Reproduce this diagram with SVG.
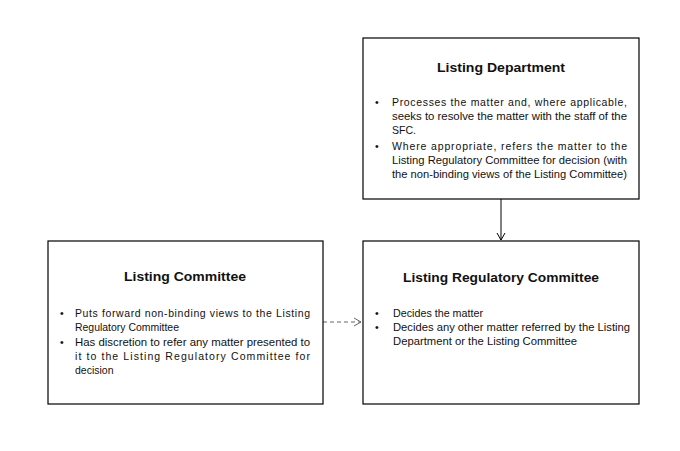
<svg xmlns="http://www.w3.org/2000/svg" width="680" height="451" viewBox="0 0 680 451">
<style>
.box{fill:#fff;stroke:#000;stroke-width:1.2}
.t{font-family:"Liberation Sans",Arial,sans-serif;font-weight:bold;font-size:13px;fill:#111}
.b{font-family:"Liberation Sans",Arial,sans-serif;font-size:10.5px;fill:#111}
.conn{fill:none;stroke:#000;stroke-width:1}
.dash{fill:none;stroke:#666;stroke-width:1;stroke-dasharray:4,3}
</style>
<defs>
<marker id="v" markerWidth="10" markerHeight="10" refX="8" refY="5" orient="auto" markerUnits="userSpaceOnUse">
<path d="M1,1 L8,5 L1,9" fill="none" stroke="#000" stroke-width="1"/>
</marker>
<marker id="vg" markerWidth="10" markerHeight="10" refX="8" refY="5" orient="auto" markerUnits="userSpaceOnUse">
<path d="M1,1 L8,5 L1,9" fill="none" stroke="#666" stroke-width="1"/>
</marker>
</defs>
<rect width="680" height="451" fill="#fff"/>
<g id="connectors">
<line class="conn" x1="501" y1="199" x2="501" y2="240" marker-end="url(#v)"/>
<line class="dash" x1="323" y1="322" x2="361" y2="322" marker-end="url(#vg)"/>
</g>
<g id="listing-department">
<rect class="box" x="363" y="38" width="276" height="161"/>
<text class="t" x="501" y="72" text-anchor="middle" textLength="128" lengthAdjust="spacingAndGlyphs">Listing Department</text>
<text class="b" x="375" y="106">•</text>
<text class="b" x="392" y="106" textLength="235" lengthAdjust="spacing">Processes the matter and, where applicable,</text>
<text class="b" x="392" y="120" textLength="235" lengthAdjust="spacingAndGlyphs">seeks to resolve the matter with the staff of the</text>
<text class="b" x="392" y="134">SFC.</text>
<text class="b" x="375" y="150">•</text>
<text class="b" x="392" y="150" textLength="235" lengthAdjust="spacing">Where appropriate, refers the matter to the</text>
<text class="b" x="392" y="164" textLength="235" lengthAdjust="spacingAndGlyphs">Listing Regulatory Committee for decision (with</text>
<text class="b" x="392" y="178" textLength="235" lengthAdjust="spacingAndGlyphs">the non-binding views of the Listing Committee)</text>
</g>
<g id="listing-committee">
<rect class="box" x="48" y="241" width="275" height="163"/>
<text class="t" x="185" y="281" text-anchor="middle" textLength="122" lengthAdjust="spacingAndGlyphs">Listing Committee</text>
<text class="b" x="60" y="317">•</text>
<text class="b" x="75" y="317" textLength="235" lengthAdjust="spacing">Puts forward non-binding views to the Listing</text>
<text class="b" x="75" y="331" textLength="104" lengthAdjust="spacingAndGlyphs">Regulatory Committee</text>
<text class="b" x="60" y="346">•</text>
<text class="b" x="75" y="346" textLength="235" lengthAdjust="spacingAndGlyphs">Has discretion to refer any matter presented to</text>
<text class="b" x="75" y="360" textLength="235" lengthAdjust="spacing">it to the Listing Regulatory Committee for</text>
<text class="b" x="75" y="374">decision</text>
</g>
<g id="listing-regulatory-committee">
<rect class="box" x="363" y="241" width="276" height="163"/>
<text class="t" x="501" y="282" text-anchor="middle" textLength="196" lengthAdjust="spacingAndGlyphs">Listing Regulatory Committee</text>
<text class="b" x="375" y="317">•</text>
<text class="b" x="393" y="317" textLength="90" lengthAdjust="spacingAndGlyphs">Decides the matter</text>
<text class="b" x="375" y="331">•</text>
<text class="b" x="393" y="331" textLength="237" lengthAdjust="spacingAndGlyphs">Decides any other matter referred by the Listing</text>
<text class="b" x="393" y="345" textLength="184" lengthAdjust="spacingAndGlyphs">Department or the Listing Committee</text>
</g>
</svg>
